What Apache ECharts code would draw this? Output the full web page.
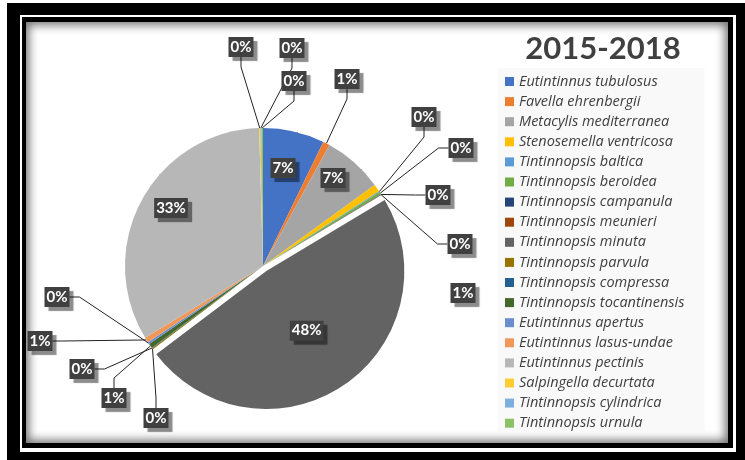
<!DOCTYPE html>
<html>
<head>
<meta charset="utf-8">
<script src="https://cdn.jsdelivr.net/npm/echarts@6/dist/echarts.min.js"></script>
<style>
  html, body { margin: 0; padding: 0; background: #fff; }
  .frame { position: absolute; }
  #f1 { left: 7px; top: 3px; width: 738px; height: 457px; background: #000; }
  #f2 { left: 20px; top: 15px; width: 716px; height: 437px; background: #fff; }
  #f3 { left: 22px; top: 17px; width: 711px; height: 431px; background: #000; }
  #f4 { left: 26px; top: 22px; width: 702px; height: 421px; background: #fff;
        box-shadow: inset 0 0 10px 3px rgba(0,0,0,0.55); }
  #chart { position: absolute; left: 0; top: 0; width: 745px; height: 460px; }
</style>
</head>
<body>
<div class="frame" id="f1"></div>
<div class="frame" id="f2"></div>
<div class="frame" id="f3"></div>
<div class="frame" id="f4"></div>
<div id="chart"></div>
<script>
const species = [
  "Eutintinnus tubulosus", "Favella ehrenbergii", "Metacylis mediterranea",
  "Stenosemella ventricosa", "Tintinnopsis baltica", "Tintinnopsis beroidea",
  "Tintinnopsis campanula", "Tintinnopsis meunieri", "Tintinnopsis minuta",
  "Tintinnopsis parvula", "Tintinnopsis compressa", "Tintinnopsis tocantinensis",
  "Eutintinnus apertus", "Eutintinnus lasus-undae", "Eutintinnus pectinis",
  "Salpingella decurtata", "Tintinnopsis cylindrica", "Tintinnopsis urnula"
];
// share of each species (%)
const share = [7.2, 0.8, 7.0, 0.9, 0.1, 0.3, 0.05, 0.05, 48.3,
  0.15, 0.05, 0.55, 0.25, 0.6, 33.25, 0.15, 0.1, 0.2];
const colors = ["#4472C4", "#ED7D31", "#A5A5A5", "#FFC000", "#5B9BD5", "#70AD47",
  "#264478", "#9E480E", "#636363", "#997300", "#255E91", "#43682B",
  "#698ED0", "#F1975A", "#B7B7B7", "#FFCD33", "#7CAFDD", "#8CC168"];
const insideLabels = [0, 2, 8, 14];
// where the data labels sit (label centre, px), like the original layout
const labelPos = [
  [283, 168], [347, 79], [333, 178], [463, 293], [424, 117], [461, 148],
  [438, 195], [460, 244], [330, 355], [156, 418], [82, 369], [114, 398],
  [57, 297], [40, 341], [171, 208], [241, 47], [292, 48], [294, 81]
];
const noLine = [3];

const chart = echarts.init(document.getElementById("chart"));
chart.setOption({
  color: colors,
  title: {
    text: "2015-2018",
    left: 598,
    top: 28,
    textAlign: "center",
    textStyle: { fontFamily: "Lato", fontSize: 31, fontWeight: "bold", color: "#404040" }
  },
  legend: {
    orient: "vertical",
    left: 498,
    top: 68,
    width: 218,
    padding: [6, 20, 1, 7],
    backgroundColor: "#f9f9f9",
    itemWidth: 9,
    itemHeight: 9,
    itemGap: 5.1,
    icon: "rect",
    selectedMode: false,
    textStyle: { fontFamily: "Open Sans", fontStyle: "italic", fontSize: 14.5, lineHeight: 14, color: "#404040" },
    data: species
  },
  series: [{
    type: "pie",
    center: [263, 266],
    radius: 138,
    startAngle: 90,
    clockwise: true,
    selectedMode: "single",
    selectedOffset: 6,
    avoidLabelOverlap: false,
    label: {
      show: true,
      position: "outside",
      formatter: p => Math.round(p.percent) + "%",
      fontFamily: "Lato",
      fontWeight: "bold",
      fontSize: 15,
      color: "#fff",
      backgroundColor: "#404040",
      padding: [3, 2, 2, 2],
      shadowColor: "rgba(0,0,0,0.45)",
      shadowOffsetX: 4,
      shadowOffsetY: 4,
      shadowBlur: 1
    },
    labelLine: {
      show: true,
      length: 20,
      length2: 10,
      lineStyle: { color: "#222", width: 1 }
    },
    labelLayout: p => ({
      x: labelPos[p.dataIndex][0],
      y: labelPos[p.dataIndex][1],
      align: "center",
      verticalAlign: "middle"
    }),
    emphasis: { disabled: true },
    data: species.map((name, i) => ({
      name: name,
      value: share[i],
      selected: i === 8,
      label: insideLabels.includes(i) ? { position: "inside" } : undefined,
      labelLine: noLine.includes(i) ? { show: false } : undefined
    }))
  }]
});
</script>
</body>
</html>
